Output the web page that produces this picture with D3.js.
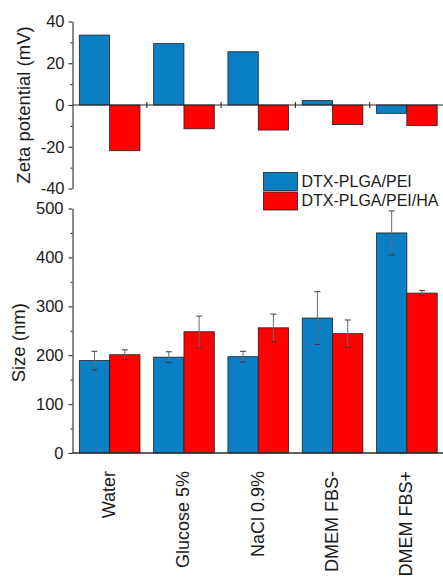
<!DOCTYPE html>
<html>
<head>
<meta charset="utf-8">
<script src="https://cdn.jsdelivr.net/npm/d3@7"></script>
<style>
  html, body { margin: 0; padding: 0; background: #fff; }
  svg { display: block; font-family: "Liberation Sans", Arial, sans-serif; }
</style>
</head>
<body>
<svg id="chart" width="443" height="579"></svg>
<script>
// Media used to disperse the nanoparticles
const categories = ["Water", "Glucose 5%", "NaCl 0.9%", "DMEM FBS-", "DMEM FBS+"];
const seriesNames = ["DTX-PLGA/PEI", "DTX-PLGA/PEI/HA"];
const seriesColors = ["#0a7fc3", "#ff0000"];

// Zeta potential (mV)
const zetaPEI = [33.5, 29.4, 25.5, 2.1, -4.0];
const zetaPEIHA = [-21.9, -11.4, -12.0, -9.4, -9.9];

// Hydrodynamic size (nm) with standard deviations
const sizePEI = [189, 196, 197, 276, 450];
const sizePEIErr = [19, 11, 11, 54, 45];
const sizePEIHA = [201, 248, 256, 244, 327];
const sizePEIHAErr = [10, 32, 28, 28, 5];

// Axis ticks
const zetaTicks = [-40, -20, 0, 20, 40];
const zetaMinor = [-30, -10, 10, 30];
const sizeTicks = [0, 100, 200, 300, 400, 500];
const sizeMinor = [50, 150, 250, 350, 450];

const svg = d3.select("#chart");
const axisColor = "#2b2b2b";
const textColor = "#1a1a1a";
const plainNumber = v => String(v); // hyphen-minus for negatives

const x0 = d3.scaleBand().domain(categories).range([72.5, 444]).padding(0);
const x1 = d3.scaleBand().domain(seriesNames).range([0, x0.bandwidth()])
  .paddingInner(0).paddingOuter(0.225);

const yZ = d3.scaleLinear().domain([-40, 40]).range([188.5, 21.5]);
const yS = d3.scaleLinear().domain([0, 500]).range([453, 208.5]);

function rows(a, b, ea, eb) {
  return categories.map((c, i) => [
    { cat: c, s: seriesNames[0], v: a[i], e: ea ? ea[i] : 0, k: 0 },
    { cat: c, s: seriesNames[1], v: b[i], e: eb ? eb[i] : 0, k: 1 }
  ]).flat();
}

// ---------- Zeta potential panel ----------
const zeta = svg.append("g");
zeta.selectAll("rect.bar")
  .data(rows(zetaPEI, zetaPEIHA))
  .join("rect")
  .attr("class", "bar")
  .attr("x", d => x0(d.cat) + x1(d.s))
  .attr("width", x1.bandwidth())
  .attr("y", d => Math.min(yZ(d.v), yZ(0)))
  .attr("height", d => Math.abs(yZ(d.v) - yZ(0)))
  .attr("fill", d => seriesColors[d.k])
  .attr("stroke", "#222")
  .attr("stroke-width", 0.8);

// zero line with group separators
zeta.append("line")
  .attr("x1", 72.5).attr("x2", 444)
  .attr("y1", yZ(0)).attr("y2", yZ(0))
  .attr("stroke", axisColor).attr("stroke-width", 1.1);
zeta.selectAll("line.sep")
  .data(categories.slice(1))
  .join("line")
  .attr("class", "sep")
  .attr("x1", d => x0(d)).attr("x2", d => x0(d))
  .attr("y1", yZ(0) - 3).attr("y2", yZ(0) + 3)
  .attr("stroke", axisColor).attr("stroke-width", 1.1);

zeta.append("g")
  .attr("transform", "translate(72.5,0)")
  .call(d3.axisLeft(yZ).tickValues(zetaTicks).tickFormat(plainNumber)
    .tickSize(4).tickPadding(4).tickSizeOuter(0));
zeta.append("g")
  .attr("transform", "translate(72.5,0)")
  .call(d3.axisLeft(yZ).tickValues(zetaMinor).tickSize(2).tickFormat("").tickSizeOuter(0))
  .call(g => g.select(".domain").remove());

zeta.append("text")
  .attr("transform", `translate(30,${(yZ(40) + yZ(-40)) / 2}) rotate(-90)`)
  .attr("text-anchor", "middle")
  .attr("font-size", 18.5)
  .attr("fill", textColor)
  .text("Zeta potential (mV)");

// ---------- Size panel ----------
const size = svg.append("g");
const sizeRows = rows(sizePEI, sizePEIHA, sizePEIErr, sizePEIHAErr);
size.selectAll("rect.bar")
  .data(sizeRows)
  .join("rect")
  .attr("class", "bar")
  .attr("x", d => x0(d.cat) + x1(d.s))
  .attr("width", x1.bandwidth())
  .attr("y", d => yS(d.v))
  .attr("height", d => yS(0) - yS(d.v))
  .attr("fill", d => seriesColors[d.k])
  .attr("stroke", "#222")
  .attr("stroke-width", 0.8);

// error bars
const eb = size.selectAll("g.err").data(sizeRows).join("g").attr("class", "err")
  .attr("transform", d => `translate(${x0(d.cat) + x1(d.s) + x1.bandwidth() / 2},0)`);
eb.append("line")
  .attr("y1", d => yS(d.v + d.e)).attr("y2", d => yS(d.v - d.e))
  .attr("stroke", "#6a6a6a").attr("stroke-width", 1);
eb.selectAll("line.cap")
  .data(d => [d.v + d.e, d.v - d.e])
  .join("line").attr("class", "cap")
  .attr("x1", -3).attr("x2", 3)
  .attr("y1", v => yS(v)).attr("y2", v => yS(v))
  .attr("stroke", "#3a3a3a").attr("stroke-width", 1);

size.append("g")
  .attr("transform", "translate(72.5,0)")
  .call(d3.axisLeft(yS).tickValues(sizeTicks).tickFormat(plainNumber)
    .tickSize(4).tickPadding(5).tickSizeOuter(0));
size.append("g")
  .attr("transform", "translate(72.5,0)")
  .call(d3.axisLeft(yS).tickValues(sizeMinor).tickSize(2).tickFormat("").tickSizeOuter(0))
  .call(g => g.select(".domain").remove());

size.append("line")
  .attr("x1", 72.5).attr("x2", 444)
  .attr("y1", yS(0)).attr("y2", yS(0))
  .attr("stroke", axisColor).attr("stroke-width", 1.3);

size.append("text")
  .attr("transform", `translate(25,${(yS(0) + yS(500)) / 2 + 12}) rotate(-90)`)
  .attr("text-anchor", "middle")
  .attr("font-size", 18.5)
  .attr("fill", textColor)
  .text("Size (nm)");

// category labels, rotated
svg.selectAll("text.cat")
  .data(categories)
  .join("text")
  .attr("class", "cat")
  .attr("transform", d => `translate(${x0(d) + x0.bandwidth() / 2 - 1},471) rotate(-90)`)
  .attr("text-anchor", "end")
  .attr("dy", "0.35em")
  .attr("font-size", 18)
  .attr("fill", textColor)
  .text(d => d);

// shared tick styling
svg.selectAll(".tick text").attr("font-size", 16.5).attr("fill", textColor)
  .attr("font-family", "'Liberation Sans', Arial, sans-serif");
svg.selectAll(".tick line").attr("stroke", axisColor).attr("stroke-width", 1.1);
svg.selectAll(".domain").attr("stroke", axisColor).attr("stroke-width", 1.1);

// ---------- Legend ----------
const legend = svg.append("g");
const lg = legend.selectAll("g").data(seriesNames).join("g")
  .attr("transform", (d, i) => `translate(263.5,${172.5 + i * 19.5})`);
lg.append("rect")
  .attr("width", 34).attr("height", 18)
  .attr("fill", (d, i) => seriesColors[i])
  .attr("stroke", "#222").attr("stroke-width", 0.8);
lg.append("text")
  .attr("x", 38).attr("y", 14)
  .attr("font-size", 16)
  .attr("fill", textColor)
  .text(d => d);
</script>
</body>
</html>
